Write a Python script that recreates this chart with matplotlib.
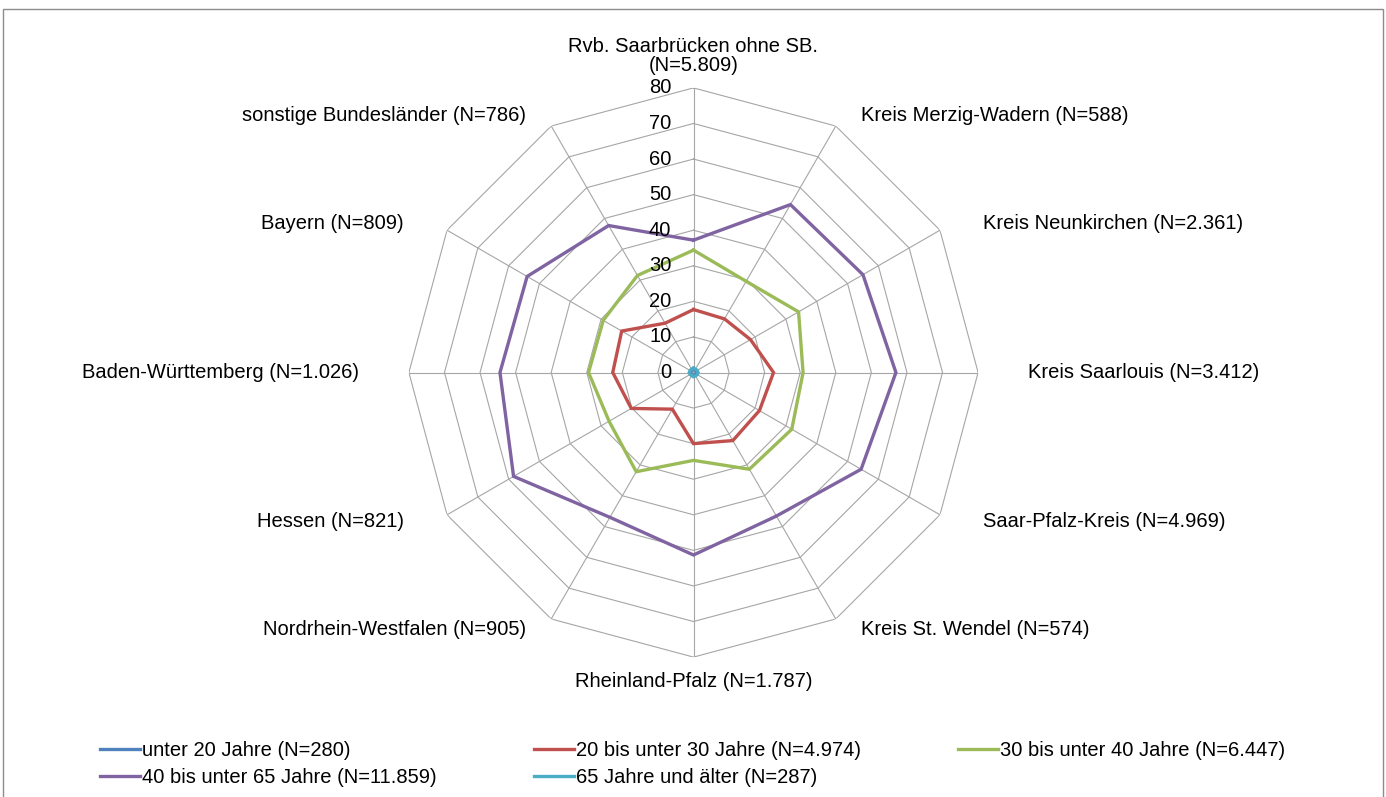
import numpy as np
import matplotlib
matplotlib.use("Agg")
import matplotlib.pyplot as plt
from matplotlib.patches import Rectangle

plt.rcParams["font.family"] = ["Liberation Sans", "DejaVu Sans"]

# regions, clockwise from the top
CATEGORIES = [
    "Rvb. Saarbrücken ohne SB.\n(N=5.809)",
    "Kreis Merzig-Wadern (N=588)",
    "Kreis Neunkirchen (N=2.361)",
    "Kreis Saarlouis (N=3.412)",
    "Saar-Pfalz-Kreis (N=4.969)",
    "Kreis St. Wendel (N=574)",
    "Rheinland-Pfalz (N=1.787)",
    "Nordrhein-Westfalen (N=905)",
    "Hessen (N=821)",
    "Baden-Württemberg (N=1.026)",
    "Bayern (N=809)",
    "sonstige Bundesländer (N=786)",
]

unter20 = [1.0, 0.8, 0.9, 1.0, 0.9, 0.8, 0.9, 0.7, 0.8, 0.9, 0.8, 0.8]
bis30 = [17.7, 17.4, 18.5, 22.5, 21.4, 22.1, 20.0, 11.9, 20.2, 22.7, 23.3, 16.0]
bis40 = [34.4, 29.6, 34.1, 30.8, 31.9, 31.4, 24.7, 32.2, 27.4, 29.5, 29.3, 31.5]
bis65 = [37.2, 54.5, 55.0, 56.9, 54.4, 46.6, 51.3, 47.0, 58.4, 54.4, 54.0, 47.7]
ab65 = [1.2, 1.1, 1.2, 1.3, 1.2, 1.1, 1.2, 1.0, 1.1, 1.2, 1.1, 1.1]

SERIES = [
    (unter20, "unter 20 Jahre (N=280)", "#4F81BD"),
    (bis30, "20 bis unter 30 Jahre (N=4.974)", "#C0504D"),
    (bis40, "30 bis unter 40 Jahre (N=6.447)", "#9BBB59"),
    (bis65, "40 bis unter 65 Jahre (N=11.859)", "#8064A2"),
    (ab65, "65 Jahre und älter (N=287)", "#4BACC6"),
]

R_TICKS = [0, 10, 20, 30, 40, 50, 60, 70, 80]
GRID = "#A6A6A6"
FS = 14.5

W, H = 1386, 797
fig = plt.figure(figsize=(W / 100, H / 100), dpi=100)

# outer frame
fig.patches.append(Rectangle((3 / W, -0.01), 1380 / W, 1 - 9 / H + 0.01,
                             transform=fig.transFigure, fill=False,
                             edgecolor="#8C8C8C", linewidth=1.0))

cx, cy, rad = 693.5, 797 - 372.5, 284.6
ax = fig.add_axes([(cx - rad) / W, (cy - rad) / H, 2 * rad / W, 2 * rad / H],
                  projection="polar")
ax.set_theta_offset(np.pi / 2)
ax.set_theta_direction(-1)
ax.set_ylim(0, 80)
ax.grid(False)
ax.spines["polar"].set_visible(False)
ax.set_xticks([])
ax.set_yticks([])
ax.patch.set_alpha(0)

n = len(CATEGORIES)
angles = np.linspace(0, 2 * np.pi, n, endpoint=False)
closed = np.append(angles, angles[0])

# polygon grid
for r in R_TICKS[1:]:
    ax.plot(closed, [r] * (n + 1), color=GRID, linewidth=0.8, zorder=1)
for a in angles:
    ax.plot([a, a], [0, 80], color=GRID, linewidth=0.8, zorder=1)

for vals, label, color in SERIES:
    ax.plot(closed, vals + vals[:1], color=color, linewidth=2.4,
            label=label, zorder=3, solid_joinstyle="miter")

for r in R_TICKS:
    ax.annotate(str(r), xy=(0, r), xytext=(-16, 0), textcoords="offset points",
                ha="right", va="center", fontsize=FS, zorder=4)

for a, lab in zip(angles, CATEGORIES):
    s, c = np.sin(a), np.cos(a)
    dx = 50 * s * 0.72
    dy = 12.7 * c * 0.72
    if abs(s) < 1e-6:
        ha = "center"
        va = "bottom" if c > 0 else "top"
        dy = 9 if c > 0 else -11
    else:
        ha = "left" if s > 0 else "right"
        va = "center"
    ax.annotate(lab, xy=(a, 80), xytext=(dx, dy), textcoords="offset points",
                ha=ha, va=va, fontsize=FS, linespacing=1.0,
                annotation_clip=False)

handles, labels = ax.get_legend_handles_labels()
order = [0, 3, 1, 4, 2]
fig.legend([handles[i] for i in order], [labels[i] for i in order],
           loc="upper left", bbox_to_anchor=(100 / W, 1 - 741 / H),
           ncol=3, frameon=False, fontsize=FS, handlelength=2.0,
           handletextpad=0.1, columnspacing=4.8, labelspacing=0.4,
           borderpad=0, borderaxespad=0)

fig.savefig("out.png", dpi=100)
